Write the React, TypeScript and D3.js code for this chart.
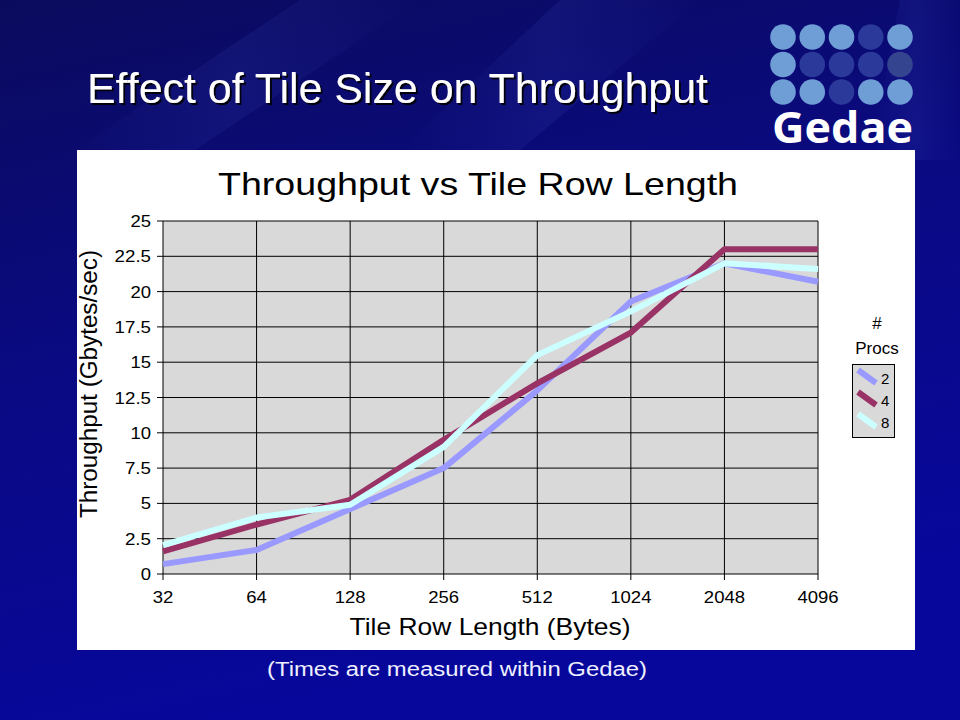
import React from "react";
import * as d3 from "d3";

const categories = ["32", "64", "128", "256", "512", "1024", "2048", "4096"];
const procs2 = [0.7, 1.7, 4.6, 7.5, 13.0, 19.3, 22.0, 20.7];
const procs4 = [1.6, 3.5, 5.25, 9.5, 13.5, 17.1, 23.0, 23.0];
const procs8 = [2.05, 4.0, 4.9, 9.0, 15.5, 18.6, 22.0, 21.6];
const yTicks = [0, 2.5, 5, 7.5, 10, 12.5, 15, 17.5, 20, 22.5, 25];
const seriesNames = ["2", "4", "8"];
const seriesColors = ["#9999FF", "#993366", "#CCFFFF"];
const logoPattern = [
  [1, 1, 1, 0, 1],
  [1, 0, 0, 0, 2],
  [1, 1, 0, 1, 1],
];

const FONT = "'Liberation Sans', Arial, sans-serif";

function labelWidth(s: string) {
  let w = 0;
  for (const ch of s) w += ch === "." ? 5.5 : 10.3;
  return w;
}

export default function App() {
  const W = 960, H = 720;
  const plot = { left: 163, right: 818, top: 221, bottom: 574 };
  const x = d3.scalePoint<string>().domain(categories).range([plot.left, plot.right]);
  const y = d3.scaleLinear().domain([0, 25]).range([plot.bottom, plot.top]);
  const line = d3
    .line<number>()
    .x((_, i) => x(categories[i]) as number)
    .y((d) => y(d));
  const allSeries = [procs2, procs4, procs8];

  const logoX = d3.scaleLinear().domain([0, 4]).range([783, 900]);
  const logoY = d3.scaleLinear().domain([0, 2]).range([37, 92]);
  const logoColors = ["#2b3a9a", "#6f9ed6", "#34448f"];

  return (
    <div style={{ position: "fixed", left: 0, top: 0, width: W, height: H }}>
      <svg width={W} height={H} style={{ display: "block" }}>
        <defs>
          <linearGradient id="bg" x1="0" y1="0" x2="0.3" y2="1">
            <stop offset="0" stopColor="#0b0b5e" />
            <stop offset="0.5" stopColor="#0a0a84" />
            <stop offset="1" stopColor="#07079c" />
          </linearGradient>
          <linearGradient id="streak" x1="0" y1="0" x2="1" y2="0">
            <stop offset="0" stopColor="#4a5ad0" stopOpacity="0" />
            <stop offset="0.5" stopColor="#4a5ad0" stopOpacity="0.12" />
            <stop offset="1" stopColor="#4a5ad0" stopOpacity="0" />
          </linearGradient>
          <filter id="shadow" x="-5%" y="-20%" width="110%" height="140%">
            <feDropShadow dx="2" dy="2" stdDeviation="0.6" floodColor="#000000" floodOpacity="0.9" />
          </filter>
        </defs>
        <rect x={0} y={0} width={W} height={H} fill="url(#bg)" />
        <polygon points="300,0 420,0 180,160 60,160" fill="url(#streak)" />
        <polygon points="560,0 700,0 520,150 400,150" fill="url(#streak)" />
        <polygon points="900,0 960,0 960,160 870,160" fill="url(#streak)" />

        {/* Slide title */}
        <text
          x={87}
          y={103}
          fill="#ffffff"
          fontFamily={FONT}
          fontSize={42}
          textLength={621}
          lengthAdjust="spacingAndGlyphs"
          filter="url(#shadow)"
        >
          Effect of Tile Size on Throughput
        </text>

        {/* Logo */}
        {logoPattern.map((row, r) =>
          row.map((c, ci) => (
            <circle key={`${r}-${ci}`} cx={logoX(ci)} cy={logoY(r)} r={12.8} fill={logoColors[c]} />
          ))
        )}
        <text
          x={772}
          y={143}
          fill="#ffffff"
          fontFamily="'Open Sans', 'DejaVu Sans', sans-serif"
          fontWeight="bold"
          fontSize={43}
          textLength={141}
          lengthAdjust="spacingAndGlyphs"
        >
          Gedae
        </text>

        {/* Chart box */}
        <rect x={77} y={150} width={838} height={500} fill="#ffffff" />
        <text
          x={478}
          y={195}
          textAnchor="middle"
          fontFamily={FONT}
          fontSize={32}
          textLength={520}
          lengthAdjust="spacingAndGlyphs"
          fill="#000"
        >
          Throughput vs Tile Row Length
        </text>

        {/* Plot */}
        <rect
          x={plot.left}
          y={plot.top}
          width={plot.right - plot.left}
          height={plot.bottom - plot.top}
          fill="#d9d9d9"
        />
        {yTicks.map((t) => (
          <g key={`y${t}`}>
            <line x1={plot.left - 6} x2={plot.right} y1={y(t)} y2={y(t)} stroke="#000" strokeWidth={1} />
            <text
              x={plot.left - 12}
              y={y(t) + 6}
              textAnchor="end"
              fontFamily={FONT}
              fontSize={17}
              textLength={labelWidth(String(t))}
              lengthAdjust="spacingAndGlyphs"
              fill="#000"
            >
              {t}
            </text>
          </g>
        ))}
        {categories.map((c) => (
          <g key={`x${c}`}>
            <line
              x1={x(c)}
              x2={x(c)}
              y1={plot.top}
              y2={plot.bottom + 6}
              stroke="#000"
              strokeWidth={1}
            />
            <text
              x={x(c)}
              y={plot.bottom + 29}
              textAnchor="middle"
              fontFamily={FONT}
              fontSize={17}
              textLength={labelWidth(c)}
              lengthAdjust="spacingAndGlyphs"
              fill="#000"
            >
              {c}
            </text>
          </g>
        ))}
        {allSeries.map((s, i) => (
          <path
            key={`s${i}`}
            d={line(s) || ""}
            fill="none"
            stroke={seriesColors[i]}
            strokeWidth={6}
            strokeLinejoin="round"
          />
        ))}

        <text
          x={490}
          y={635}
          textAnchor="middle"
          fontFamily={FONT}
          fontSize={24}
          textLength={281}
          lengthAdjust="spacingAndGlyphs"
          fill="#000"
        >
          Tile Row Length (Bytes)
        </text>
        <text
          transform="translate(97,384) rotate(-90)"
          textAnchor="middle"
          fontFamily={FONT}
          fontSize={23}
          textLength={268}
          lengthAdjust="spacingAndGlyphs"
          fill="#000"
        >
          Throughput (Gbytes/sec)
        </text>

        {/* Legend */}
        <text x={877} y={329} textAnchor="middle" fontFamily={FONT} fontSize={17} fill="#000">
          #
        </text>
        <text x={877} y={354} textAnchor="middle" fontFamily={FONT} fontSize={17} fill="#000">
          Procs
        </text>
        <rect x={852.5} y={364.5} width={42} height={73} fill="#d9d9d9" stroke="#000" strokeWidth={1} />
        {seriesNames.map((n, i) => (
          <g key={`l${n}`}>
            <line
              x1={858}
              y1={370 + i * 22}
              x2={876}
              y2={383 + i * 22}
              stroke={seriesColors[i]}
              strokeWidth={6}
            />
            <text x={881} y={384 + i * 22} fontFamily={FONT} fontSize={15} fill="#000">
              {n}
            </text>
          </g>
        ))}

        {/* Footer note */}
        <text
          x={457}
          y={676}
          textAnchor="middle"
          fontFamily={FONT}
          fontSize={20}
          textLength={380}
          lengthAdjust="spacingAndGlyphs"
          fill="#eef0ff"
        >
          (Times are measured within Gedae)
        </text>
      </svg>
    </div>
  );
}
